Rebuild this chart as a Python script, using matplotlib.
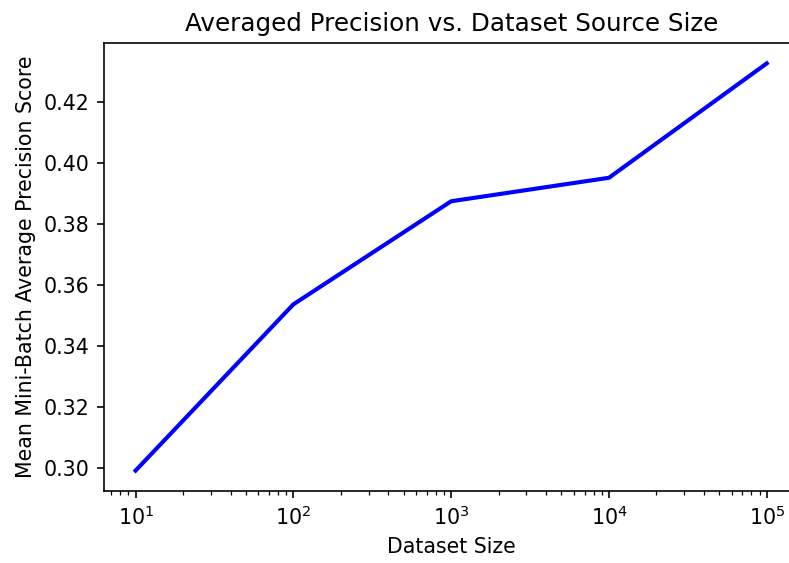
import matplotlib
matplotlib.use("Agg")
import matplotlib.pyplot as plt

dataset_size = [10, 100, 1000, 10000, 100000]
mean_ap = [0.2993, 0.3538, 0.3876, 0.3953, 0.4328]

dpi = 148
fig = plt.figure(figsize=(789 / dpi, 563 / dpi), dpi=dpi)
# axes run past the right edge, as in the cropped original
ax = fig.add_axes([0.1318, 0.1279, 0.8800, 0.7957])
ax.plot(dataset_size, mean_ap, color='blue', linewidth=2)
ax.set_xscale('log')
ax.set_title('Averaged Precision vs. Dataset Source Size')
ax.set_xlabel('Dataset Size')
ax.set_ylabel('Mean Mini-Batch Average Precision Score')

fig.savefig('out.png', dpi=dpi)
